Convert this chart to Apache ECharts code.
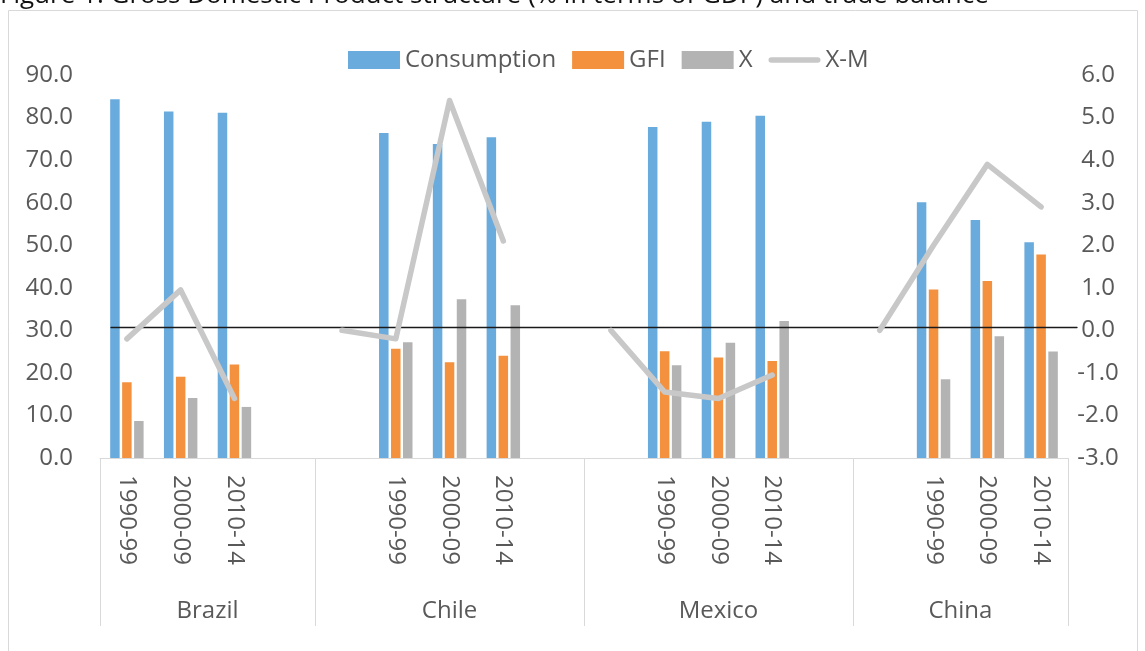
<!DOCTYPE html>
<html>
<head>
<meta charset="utf-8">
<script src="https://cdn.jsdelivr.net/npm/echarts@6/dist/echarts.min.js"></script>
<style>
  html, body { margin: 0; padding: 0; background: #ffffff; }
  #chart { width: 1145px; height: 651px; }
</style>
</head>
<body>
<div id="chart"></div>
<script>
// Countries and the three periods shown for each
const countries = ['Brazil', 'Chile', 'Mexico', 'China'];
const periods = ['1990-99', '2000-09', '2010-14'];
// Empty category slots before / after each country's three periods
const padBefore = [0, 1, 1, 1];
const padAfter = [1, 1, 1, 0];

// % of GDP, period order inside each country (left axis)
const consumption = [84.3, 81.4, 81.1, 76.4, 73.8, 75.4, 77.8, 79.0, 80.4, 60.1, 55.9, 50.7];
const gfi = [17.8, 19.1, 22.0, 25.7, 22.5, 24.0, 25.1, 23.6, 22.8, 39.6, 41.6, 47.8];
const exportsX = [8.7, 14.1, 12.0, 27.2, 37.3, 35.9, 21.8, 27.1, 32.2, 18.5, 28.6, 25.0];
// Trade balance X-M, % of GDP (right axis)
const tradeBalance = [-0.2, 0.95, -1.6, -0.2, 5.4, 2.1, -1.45, -1.6, -1.05, 2.0, 3.9, 2.9];
// X-M value carried by the empty slot that opens each country block
const tradeBalanceOpen = [null, 0, 0, 0];

// Axis ranges
const leftMin = 0, leftMax = 90, leftStep = 10;
const rightMin = -3, rightMax = 6, rightStep = 1;

// Expand to one entry per category slot
const slotLabels = [], consS = [], gfiS = [], xS = [], xmS = [];
const groupStart = [], groupCenter = [];
countries.forEach((c, ci) => {
  const start = slotLabels.length;
  groupStart.push(start);
  for (let b = 0; b < padBefore[ci]; b++) {
    slotLabels.push(''); consS.push(null); gfiS.push(null); xS.push(null);
    xmS.push(tradeBalanceOpen[ci]);
  }
  periods.forEach((p, pi) => {
    const i = ci * periods.length + pi;
    slotLabels.push(p);
    consS.push(consumption[i]); gfiS.push(gfi[i]); xS.push(exportsX[i]);
    xmS.push(tradeBalance[i]);
  });
  for (let a = 0; a < padAfter[ci]; a++) {
    slotLabels.push(''); consS.push(null); gfiS.push(null); xS.push(null);
    xmS.push(null);
  }
  groupCenter.push((start + slotLabels.length) / 2);
});
const nSlots = slotLabels.length;

const FONT = '"Open Sans", "Noto Sans", sans-serif';
const TXT = '#595959';
const C_CONS = '#6AABDD', C_GFI = '#F3913F', C_X = '#B3B3B3', C_XM = '#C8C8C8';

const chart = echarts.init(document.getElementById('chart'), null, { renderer: 'canvas' });

chart.setOption({
  animation: false,
  backgroundColor: '#ffffff',
  textStyle: { fontFamily: FONT },
  title: {
    text: 'Figure 1: Gross Domestic Product structure (% in terms of GDP) and trade balance',
    left: 0,
    top: -17,
    padding: 0,
    textStyle: { fontFamily: FONT, fontSize: 26, fontWeight: 'normal', color: '#111111' }
  },
  graphic: [{
    type: 'rect',
    silent: true,
    z: -10,
    shape: { x: 8.5, y: 10.5, width: 1129, height: 660 },
    style: { fill: 'none', stroke: '#d9d9d9', lineWidth: 1 }
  }],
  legend: {
    left: 348,
    top: 48,
    padding: 0,
    itemWidth: 52,
    itemHeight: 18,
    itemGap: 16,
    itemStyle: { borderWidth: 0 },
    textStyle: { fontFamily: FONT, fontSize: 24, color: TXT },
    data: [
      { name: 'Consumption', icon: 'rect' },
      { name: 'GFI', icon: 'rect' },
      { name: 'X', icon: 'rect' },
      { name: 'X-M', icon: 'path://M0,0L0,0M3,6H53A3,3,0,0,1,53,12H3A3,3,0,0,1,3,6ZM56,18L56,18' }
    ]
  },
  grid: [
    { left: 100, right: 77, top: 75, bottom: 193 },
    // secondary horizontal axis crossing the right scale at zero
    { left: 111, right: 68, top: 72, bottom: 196 }
  ],
  xAxis: [
    {
      type: 'category',
      gridIndex: 0,
      position: 'bottom',
      data: slotLabels,
      boundaryGap: true,
      axisLine: { show: true, onZero: false, lineStyle: { color: '#d9d9d9', width: 1 } },
      axisTick: {
        show: true,
        inside: false,
        length: 168,
        interval: (idx) => groupStart.indexOf(idx) >= 0,
        lineStyle: { color: '#d9d9d9', width: 1 }
      },
      axisLabel: {
        interval: 0,
        rotate: -90,
        margin: 17,
        fontFamily: FONT,
        fontSize: 24,
        color: TXT
      },
      splitLine: { show: false }
    },
    {
      // country names under each block
      type: 'value',
      gridIndex: 0,
      position: 'bottom',
      min: 0,
      max: nSlots,
      interval: 0.5,
      axisLine: { show: false, onZero: false },
      axisTick: { show: false },
      splitLine: { show: false },
      axisLabel: {
        margin: 141,
        fontFamily: FONT,
        fontSize: 24,
        color: TXT,
        showMinLabel: true,
        showMaxLabel: true,
        formatter: (v) => {
          const g = groupCenter.findIndex(c => Math.abs(c - v) < 1e-6);
          return g >= 0 ? countries[g] : '';
        }
      }
    },
    {
      type: 'category',
      gridIndex: 1,
      data: slotLabels,
      z: 5,
      axisLine: { show: true, onZero: true, lineStyle: { color: '#1a1a1a', width: 1.3 } },
      axisTick: { show: false },
      axisLabel: { show: false },
      splitLine: { show: false }
    }
  ],
  yAxis: [
    {
      type: 'value',
      gridIndex: 0,
      position: 'left',
      min: leftMin,
      max: leftMax,
      interval: leftStep,
      axisLine: { show: false, onZero: false },
      axisTick: { show: false },
      splitLine: { show: false },
      axisLabel: {
        margin: 27,
        fontFamily: FONT,
        fontSize: 24,
        color: TXT,
        formatter: (v) => v.toFixed(1)
      }
    },
    {
      type: 'value',
      gridIndex: 0,
      position: 'right',
      min: rightMin,
      max: rightMax,
      interval: rightStep,
      axisLine: { show: false, onZero: false },
      axisTick: { show: false },
      splitLine: { show: false },
      axisLabel: {
        margin: 30,
        align: 'center',
        fontFamily: FONT,
        fontSize: 24,
        color: TXT,
        formatter: (v) => v.toFixed(1)
      }
    },
    {
      type: 'value',
      gridIndex: 1,
      show: false,
      min: rightMin,
      max: rightMax,
      axisLine: { onZero: false }
    }
  ],
  series: [
    {
      name: 'Consumption',
      type: 'bar',
      xAxisIndex: 0, yAxisIndex: 0,
      data: consS,
      barWidth: 9.5,
      barGap: '26%',
      itemStyle: { color: C_CONS }
    },
    {
      name: 'GFI',
      type: 'bar',
      xAxisIndex: 0, yAxisIndex: 0,
      data: gfiS,
      barWidth: 9.5,
      barGap: '26%',
      itemStyle: { color: C_GFI }
    },
    {
      name: 'X',
      type: 'bar',
      xAxisIndex: 0, yAxisIndex: 0,
      data: xS,
      barWidth: 9.5,
      barGap: '26%',
      itemStyle: { color: C_X }
    },
    {
      name: 'X-M',
      type: 'line',
      xAxisIndex: 0, yAxisIndex: 1,
      data: xmS,
      z: 6,
      symbol: 'none',
      connectNulls: false,
      itemStyle: { color: C_XM },
      lineStyle: { color: C_XM, width: 5.5, cap: 'round', join: 'round' }
    }
  ]
});
</script>
</body>
</html>
